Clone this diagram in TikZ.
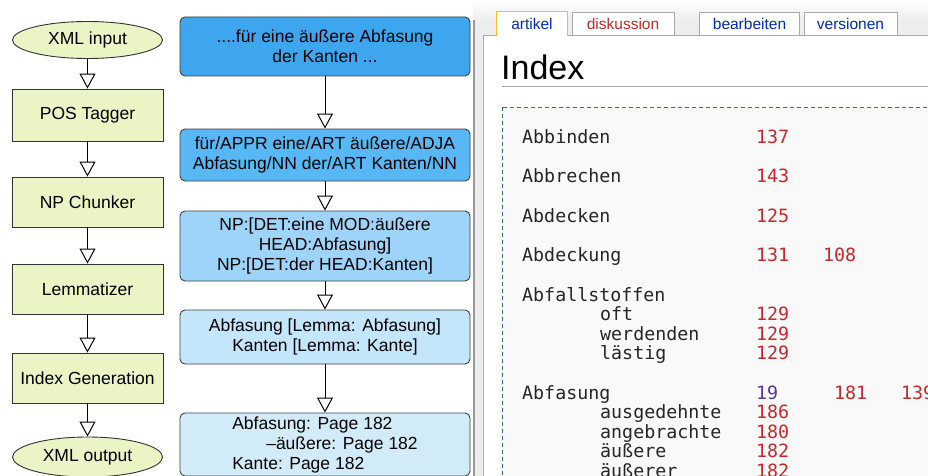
\documentclass[tikz,border=0pt]{standalone}
\usepackage{fontspec}
\setmainfont{Liberation Sans}
\newfontfamily\idxmono{DejaVu Sans Mono}
\usetikzlibrary{calc,shapes.geometric,arrows.meta}

\definecolor{stagefill}{RGB}{234,244,196}
\definecolor{tokA}{RGB}{62,166,238}
\definecolor{tokB}{RGB}{88,184,245}
\definecolor{tokC}{RGB}{158,212,250}
\definecolor{tokD}{RGB}{196,230,251}
\definecolor{tokE}{RGB}{210,235,248}
\definecolor{wikiblue}{RGB}{0,43,184}
\definecolor{wikired}{RGB}{200,40,40}
\definecolor{wikivisited}{RGB}{90,54,150}
\definecolor{wikigray}{RGB}{170,170,170}
\definecolor{wikiframe}{RGB}{47,111,171}
\definecolor{wikitab}{RGB}{250,189,35}

\tikzset{
  stage/.style={draw=black!80, fill=stagefill, line width=0.9pt, minimum width=151pt,
    inner sep=0pt, font=\fontsize{17.5}{20}\selectfont},
  stagebox/.style={stage, rectangle, minimum height=50pt},
  stageend/.style={stage, ellipse, minimum width=150pt, minimum height=37pt},
  tok/.style={draw=black!75, rounded corners=5pt, line width=0.9pt, minimum width=290pt,
    inner sep=0pt, align=center, font=\fontsize{17.5}{20}\selectfont},
  flow/.style={line width=1pt, -{Triangle[open,fill=white,length=15pt,width=16pt]}},
  tab/.style={draw=wikigray, fill=white, minimum height=23pt, inner sep=0pt,
    font=\fontsize{15.5}{18}\selectfont},
  entry/.style={anchor=base west, inner sep=0pt, text=black!85, font=\idxmono\fontsize{18.3}{20}\selectfont},
  pagenr/.style={entry, text=wikired},
}
\def\stagenode{\node[stagebox]}
\def\toknode{\node[tok]}
\def\flowarrow{\draw[flow]}

\begin{document}
\begin{tikzpicture}[x=1pt,y=-1pt]
\useasboundingbox (0,0) rectangle (928,476);
\clip (0,0) rectangle (928,476);
\fill[white] (0,0) rectangle (928,476);

\coordinate (leftcol) at (87.5,0); % centre line of the processing stages
\coordinate (midcol) at (325,0); % centre line of the example text

% -------- processing stages ---------
\node[stageend] (xmlin) at ($ (leftcol) + (0,40) $) {XML input};
\stagenode[minimum height=52pt] (pos) at ($ (leftcol) + (0,115) $) {POS Tagger};
\stagenode (chunk) at ($ (leftcol) + (0,202) $) {NP Chunker};
\stagenode (lemma) at ($ (leftcol) + (0,289) $) {Lemmatizer};
\stagenode (indexgen) at ($ (leftcol) + (0,378) $) {Index Generation};
\node[stageend, minimum height=40pt] (xmlout) at ($ (leftcol) + (0,457) $) {XML output};

\flowarrow (xmlin) -- (pos);
\flowarrow (pos) -- (chunk);
\flowarrow (chunk) -- (lemma);
\flowarrow (lemma) -- (indexgen);
\flowarrow (indexgen) -- (xmlout);
% ------ end processing stages ------

% -------- the example sentence, step by step ---------
\toknode[fill=tokA, minimum height=59pt] (raw) at ($ (midcol) + (0,46.5) $)
  {....für eine äußere Abfasung\\der Kanten ...};
\toknode[fill=tokB, minimum height=52pt] (tagged) at ($ (midcol) + (0,155) $)
  {für/APPR eine/ART äußere/ADJA\\Abfasung/NN der/ART Kanten/NN};
\toknode[fill=tokC, minimum height=70pt] (chunked) at ($ (midcol) + (0,246) $)
  {NP:[DET:eine MOD:äußere\\HEAD:Abfasung]\\NP:[DET:der HEAD:Kanten]};
\toknode[fill=tokD, minimum height=54pt] (lemmas) at ($ (midcol) + (0,337) $)
  {Abfasung [Lemma: Abfasung]\\Kanten [Lemma: Kante]};
\toknode[fill=tokE, minimum height=63pt, align=left] (pages) at ($ (midcol) + (0,444.5) $)
  {Abfasung: Page 182\\\hspace*{34pt}–äußere: Page 182\\Kante: Page 182};

\flowarrow (raw) -- (tagged);
\flowarrow (tagged) -- (chunked);
\flowarrow (chunked) -- (lemmas);
\flowarrow (lemmas) -- (pages);
% ------ end example sentence ------

% -------- wiki page with the generated index ---------
\shade[top color=white, bottom color=black!7] (473,0) rectangle (928,20);
\fill[black!7] (473,20) rectangle (928,476);
\draw[black!40, line width=1.5pt] (474,20) -- (474,476);
\draw[wikigray, fill=white] (483,35) rectangle (935,485);

\node[tab, draw=none, minimum width=70pt, minimum height=24pt] (tabart) at (532,24) {};
\draw[wikitab, line width=1pt] (tabart.south west) -- (tabart.north west) -- (tabart.north east) -- (tabart.south east);
\node[text=wikiblue, font=\fontsize{15.5}{18}\selectfont] at (tabart) {artikel};
\node[tab, minimum width=102pt, text=wikired] (tabdisk) at (623,23.5) {diskussion};
\node[tab, minimum width=100pt, text=wikiblue] (tabedit) at (749.5,23.5) {bearbeiten};
\node[tab, minimum width=93pt, text=wikiblue] (tabhist) at (850.5,23.5) {versionen};

\node[anchor=base west, inner sep=0pt, font=\fontsize{34}{40}\selectfont] (title) at (501,80) {Index};
\draw[wikigray] (502,86) -- (935,86);
\draw[wikiframe, dash pattern=on 4pt off 3pt, fill=black!2.5] (502,107) rectangle (935,485);

% main entries at x=522, sub entries at x=600, page numbers at x=756
\node[entry] (abbinden) at (522,143) {Abbinden};
\node[pagenr] (abbinden-p) at (756,143) {137};
\node[entry] (abbrechen) at (522,182.5) {Abbrechen};
\node[pagenr] (abbrechen-p) at (756,182.5) {143};
\node[entry] (abdecken) at (522,222) {Abdecken};
\node[pagenr] (abdecken-p) at (756,222) {125};
\node[entry] (abdeckung) at (522,261.5) {Abdeckung};
\node[pagenr] (abdeckung-p) at (756,261.5) {131};
\node[pagenr] (abdeckung-q) at (823,261.5) {108};
\node[entry] (abfall) at (522,301) {Abfallstoffen};
\node[entry] (oft) at (600,320.5) {oft};
\node[pagenr] (oft-p) at (756,320.5) {129};
\node[entry] (werdenden) at (600,340) {werdenden};
\node[pagenr] (werdenden-p) at (756,340) {129};
\node[entry] (laestig) at (600,359.5) {lästig};
\node[pagenr] (laestig-p) at (756,359.5) {129};
\node[entry] (abfasung) at (522,399) {Abfasung};
\node[pagenr, text=wikivisited] (abfasung-p) at (756,399) {19};
\node[pagenr] (abfasung-q) at (834,399) {181};
\node[pagenr] (abfasung-r) at (901,399) {139};
\node[entry] (ausgedehnte) at (600,418.5) {ausgedehnte};
\node[pagenr] (ausgedehnte-p) at (756,418.5) {186};
\node[entry] (angebrachte) at (600,438) {angebrachte};
\node[pagenr] (angebrachte-p) at (756,438) {180};
\node[entry] (aeussere) at (600,457.5) {äußere};
\node[pagenr] (aeussere-p) at (756,457.5) {182};
\node[entry] (aeusserer) at (600,477) {äußerer};
\node[pagenr] (aeusserer-p) at (756,477) {182};
% ------ end wiki page ------
\end{tikzpicture}
\end{document}
